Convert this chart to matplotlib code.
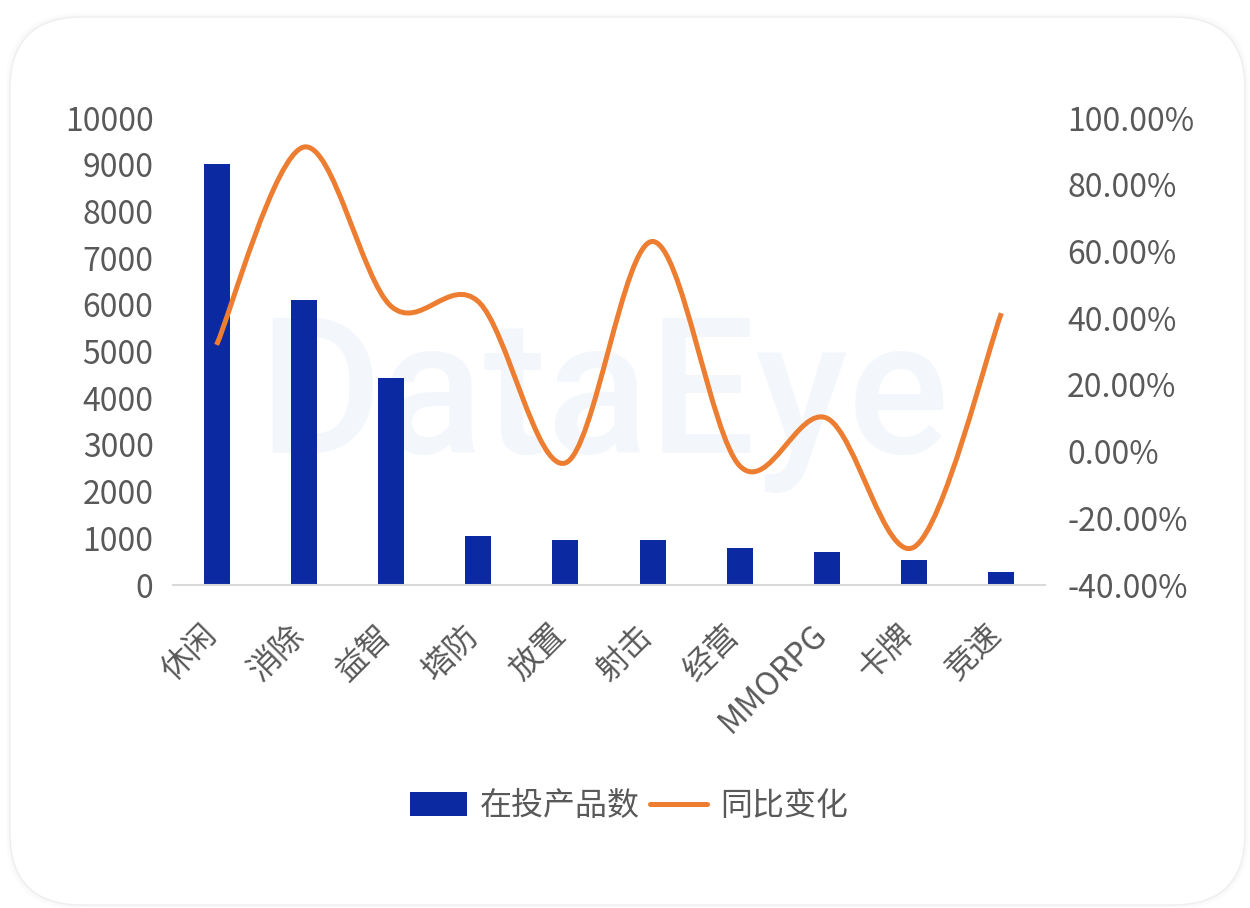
import matplotlib
matplotlib.use('Agg')
import matplotlib.pyplot as plt
from matplotlib.patches import FancyBboxPatch, PathPatch, Patch
from matplotlib.lines import Line2D
from matplotlib.path import Path
from matplotlib.ticker import FuncFormatter
from matplotlib.transforms import ScaledTranslation

plt.rcParams['font.family'] = ['Noto Sans CJK SC', 'DejaVu Sans']

categories = ['休闲', '消除', '益智', '塔防', '放置', '射击', '经营', 'MMORPG', '卡牌', '竞速']
products = [9020, 6100, 4430, 1040, 960, 960, 790, 700, 530, 270]
yoy = [0.32, 0.913, 0.436, 0.45, -0.034, 0.63, -0.043, 0.10, -0.286, 0.415]

bar_color = '#0B29A1'
line_color = '#ED7D31'
text_color = '#595959'

fig = plt.figure(figsize=(12.5, 9.08), dpi=100)
fig.patch.set_facecolor('white')

# card with a soft shadow, laid out in inches so the corners stay round
for i, a in enumerate([0.025, 0.02, 0.015, 0.01]):
    d = 0.04 - i * 0.01
    fig.patches.append(FancyBboxPatch((0.10 - d, 0.03 - d), 12.35 + 2 * d, 8.88 + 2 * d,
                                      boxstyle='round,pad=0,rounding_size=0.72',
                                      transform=fig.dpi_scale_trans, facecolor='#b0b0b0',
                                      edgecolor='none', alpha=a, zorder=-3))
fig.patches.append(FancyBboxPatch((0.10, 0.03), 12.35, 8.88,
                                  boxstyle='round,pad=0,rounding_size=0.72',
                                  transform=fig.dpi_scale_trans, facecolor='white',
                                  edgecolor='#eeeeee', linewidth=1, zorder=-2))

ax = fig.add_axes([0.1384, 0.3557, 0.6976, 0.5143])
ax.set_facecolor('none')
ax.text(0.483, 0.556, 'DataEye', transform=fig.transFigure, fontsize=136, color='#f3f7fc',
        ha='center', va='center', family='Roboto', fontweight='medium', zorder=1)

x = list(range(len(categories)))
ax.bar(x, products, width=0.3, color=bar_color, zorder=2)
ax.set_xlim(-0.5, len(categories) - 0.5)
ax.set_ylim(0, 10000)
ax.set_yticks(range(0, 10001, 1000))
ax.set_xticks(x)
ax.set_xticklabels(categories, rotation=45, ha='right', va='top', rotation_mode='anchor')
for s in ['top', 'right', 'left']:
    ax.spines[s].set_visible(False)
ax.spines['bottom'].set_color('#d9d9d9')
ax.spines['bottom'].set_linewidth(1.5)
ax.tick_params(axis='both', length=0, labelsize=23, colors=text_color)
ax.tick_params(axis='y', pad=14)
ax.tick_params(axis='x', pad=14)
shift = ScaledTranslation(-0.16, -0.14, fig.dpi_scale_trans)
for lab in ax.get_xticklabels():
    lab.set_transform(lab.get_transform() + shift)

ax2 = ax.twinx()
ax2.set_ylim(-0.4, 1.0)
ax2.set_yticks([-0.4, -0.2, 0, 0.2, 0.4, 0.6, 0.8, 1.0])
ax2.yaxis.set_major_formatter(FuncFormatter(lambda v, p: f'{v * 100:.2f}%'))
for s in ax2.spines.values():
    s.set_visible(False)
ax2.tick_params(axis='y', length=0, labelsize=23, colors=text_color, pad=16)

# smoothed line: Catmull-Rom style bezier through each point
verts = [(x[0], yoy[0])]
codes = [Path.MOVETO]
n = len(yoy)
for i in range(n - 1):
    p0 = (x[max(i - 1, 0)], yoy[max(i - 1, 0)])
    p1 = (x[i], yoy[i])
    p2 = (x[i + 1], yoy[i + 1])
    p3 = (x[min(i + 2, n - 1)], yoy[min(i + 2, n - 1)])
    c1 = (p1[0] + (p2[0] - p0[0]) / 6, p1[1] + (p2[1] - p0[1]) / 6)
    c2 = (p2[0] - (p3[0] - p1[0]) / 6, p2[1] - (p3[1] - p1[1]) / 6)
    verts += [c1, c2, p2]
    codes += [Path.CURVE4] * 3
ax2.add_patch(PathPatch(Path(verts, codes), facecolor='none', edgecolor=line_color,
                        linewidth=3.6, capstyle='butt', zorder=3))

handles = [Patch(facecolor=bar_color, edgecolor='none'),
           Line2D([0], [0], color=line_color, linewidth=3.6, solid_capstyle='round')]
fig.legend(handles, ['在投产品数', '同比变化'], loc='center', bbox_to_anchor=(0.503, 0.112),
           ncol=2, frameon=False, fontsize=23, labelcolor=text_color,
           handlelength=1.8, handleheight=0.75, handletextpad=0.4, columnspacing=0.3)

fig.savefig('out.png', dpi=100, facecolor='white')
